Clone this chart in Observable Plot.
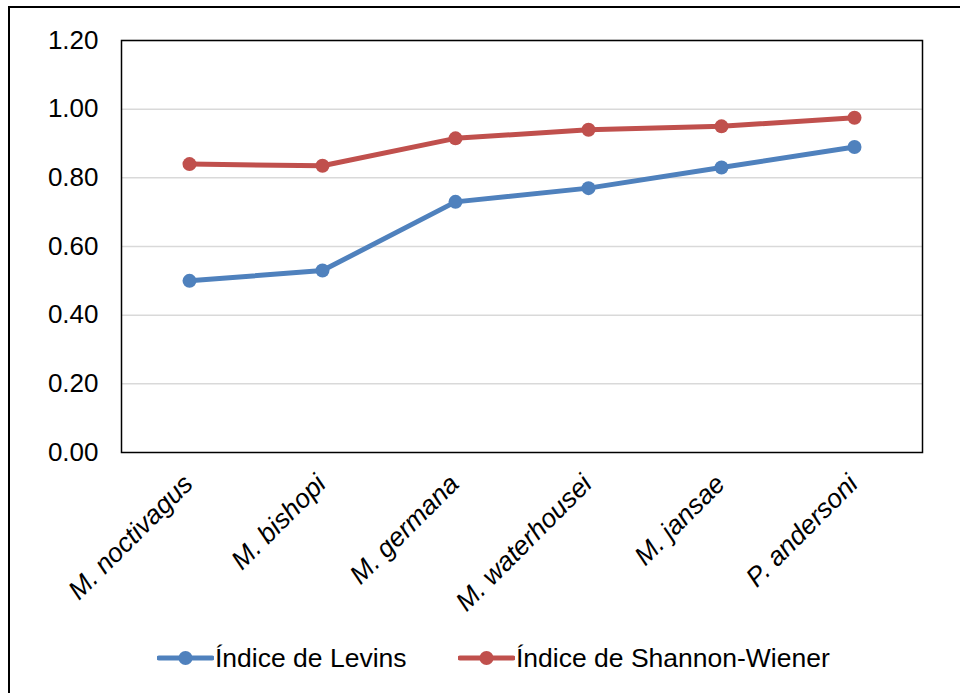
<!DOCTYPE html>
<html>
<head>
<meta charset="utf-8">
<script src="https://cdn.jsdelivr.net/npm/d3@7"></script>
<script src="https://cdn.jsdelivr.net/npm/@observablehq/plot@0.6"></script>
<style>
  html, body { margin: 0; padding: 0; background: #fff; }
  body { width: 960px; height: 693px; overflow: hidden; position: relative; font-family: "Liberation Sans", Arial, sans-serif; }
  #frame { position: absolute; left: 8px; top: 6px; width: 1000px; height: 800px; border-top: 2px solid #000; border-left: 2px solid #000; box-sizing: border-box; pointer-events: none; }
  #chart { position: absolute; left: 0; top: 0; }
  #legend { position: absolute; left: 0; top: 640px; width: 960px; height: 36px; font-size: 26.5px; color: #000; }
  .item { display: flex; align-items: center; position: absolute; top: 0; height: 36px; }
</style>
</head>
<body>
<div id="chart"></div>
<div id="legend"></div>
<div id="frame"></div>
<script>
const categories = ["M. noctivagus", "M. bishopi", "M. germana", "M. waterhousei", "M. jansae", "P. andersoni"];
const levins = [0.50, 0.53, 0.73, 0.77, 0.83, 0.89];
const shannon = [0.84, 0.835, 0.915, 0.94, 0.95, 0.975];
const seriesNames = ["Índice de Levins", "Índice de Shannon-Wiener"];
const seriesColors = ["#4f81bd", "#c0504d"];
const yTicks = [0, 0.2, 0.4, 0.6, 0.8, 1.0, 1.2];

const data = [];
categories.forEach((c, i) => {
  data.push({cat: c, value: levins[i], series: seriesNames[0]});
  data.push({cat: c, value: shannon[i], series: seriesNames[1]});
});

const chart = Plot.plot({
  width: 960,
  height: 640,
  marginLeft: 121,
  marginRight: 38,
  marginTop: 40,
  marginBottom: 188,
  style: {fontFamily: "'Liberation Sans', Arial, sans-serif", fontSize: "26px", color: "#000", background: "transparent"},
  x: {type: "point", domain: categories, padding: 0.5, label: null},
  y: {domain: [0, 1.2], label: null},
  color: {domain: seriesNames, range: seriesColors},
  marks: [
    Plot.ruleY(yTicks.slice(1), {stroke: "#d9d9d9", strokeWidth: 1.5}),
    Plot.frame({stroke: "#000", strokeWidth: 1.5}),
    Plot.axisY({ticks: yTicks, tickFormat: d3.format(".2f"), tickSize: 0, tickPadding: 23, fontSize: 26, label: null}),
    Plot.axisX({tickSize: 0, tickRotate: -45, tickPadding: 27, fontSize: 26.5, fontStyle: "italic", dx: -1, label: null}),
    Plot.line(data, {x: "cat", y: "value", z: "series", stroke: "series", strokeWidth: 5, strokeLinejoin: "round", strokeLinecap: "round"}),
    Plot.dot(data, {x: "cat", y: "value", fill: "series", r: 7, stroke: null})
  ]
});
document.getElementById("chart").appendChild(chart);

const legend = document.getElementById("legend");
const positions = [157, 458];
seriesNames.forEach((name, i) => {
  const item = document.createElement("div");
  item.className = "item";
  item.style.left = positions[i] + "px";
  item.innerHTML = `<svg width="57" height="20" style="margin-right:1px"><line x1="2" y1="10" x2="55" y2="10" stroke="${seriesColors[i]}" stroke-width="5" stroke-linecap="round"/><circle cx="28.5" cy="10" r="7" fill="${seriesColors[i]}"/></svg><span>${name}</span>`;
  legend.appendChild(item);
});
</script>
</body>
</html>
